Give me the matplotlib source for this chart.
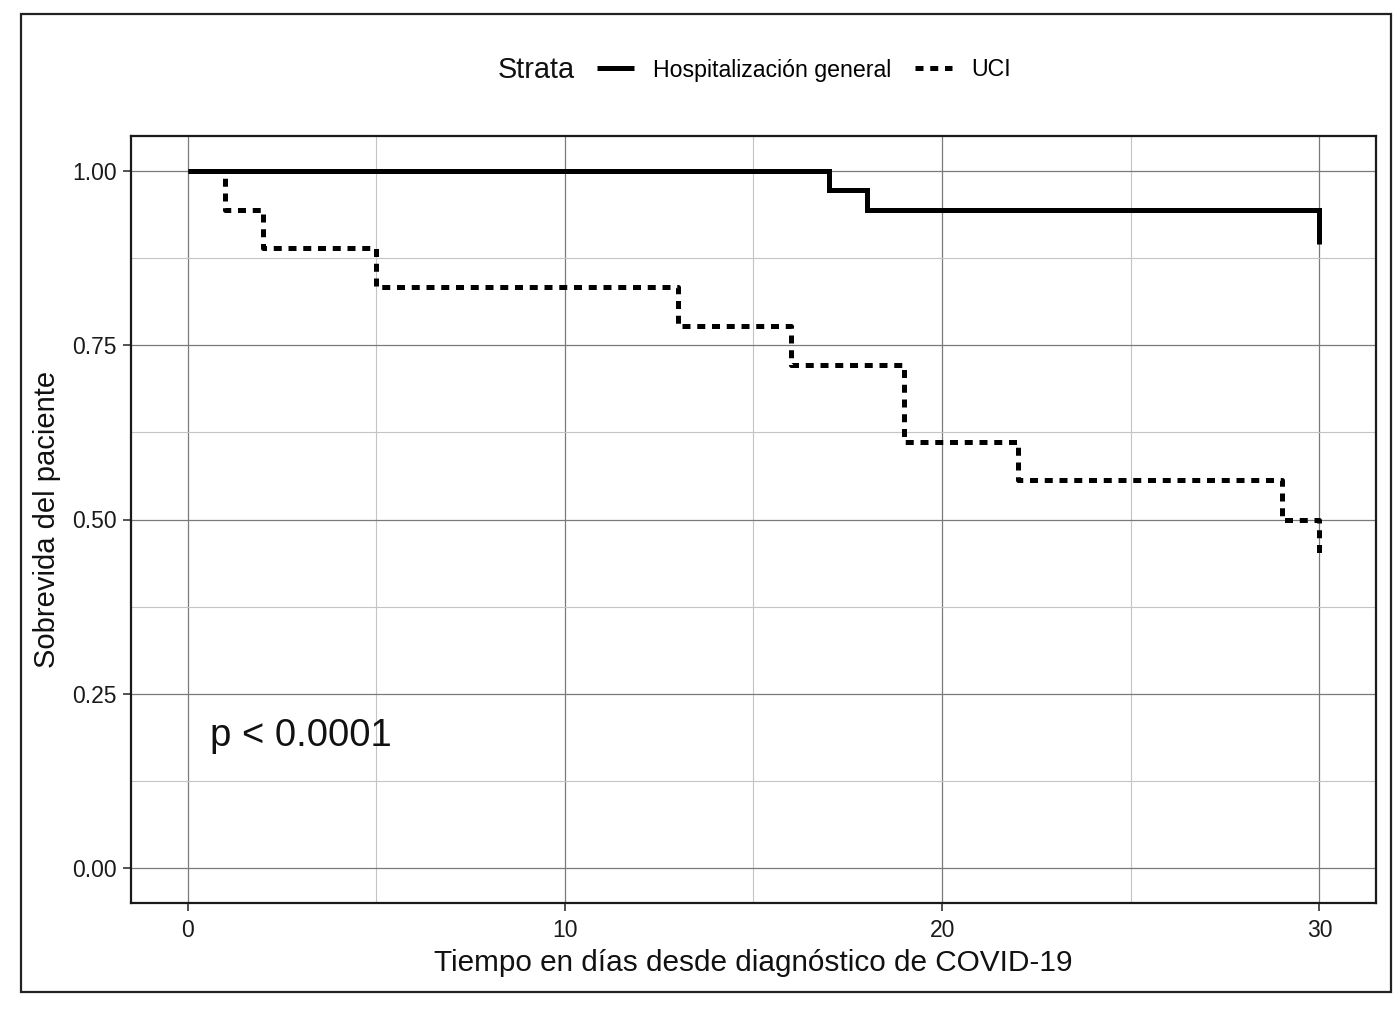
import matplotlib
matplotlib.use("Agg")
import matplotlib.pyplot as plt
from matplotlib.lines import Line2D
from matplotlib.patches import Rectangle

plt.rcParams['font.family'] = ['Liberation Sans', 'DejaVu Sans']

# Data (Kaplan-Meier step curves)
hosp_times = [0, 17, 18, 30]
hosp_surv = [1.0, 0.972, 0.944, 0.895]
uci_times = [0, 1, 2, 5, 13, 16, 19, 22, 29, 30]
uci_surv = [1.0, 0.944, 0.889, 0.833, 0.778, 0.722, 0.611, 0.556, 0.5, 0.444]
series_labels = ["Hospitalización general", "UCI"]
legend_title = "Strata"
x_ticks = [0, 10, 20, 30]
y_ticks = [0.00, 0.25, 0.50, 0.75, 1.00]
y_tick_labels = ["0.00", "0.25", "0.50", "0.75", "1.00"]
x_minor = [5, 15, 25]
y_minor = [0.125, 0.375, 0.625, 0.875]
p_text = "p < 0.0001"
x_label = "Tiempo en días desde diagnóstico de COVID-19"
y_label = "Sobrevida del paciente"

W, H = 1400, 1009
fig = plt.figure(figsize=(W / 100, H / 100), dpi=100)

# outer border
fig.patches.append(Rectangle((21 / W, 1 - 992 / H), (1391 - 21) / W, (992 - 14) / H,
                             transform=fig.transFigure, fill=False,
                             edgecolor='#222222', linewidth=1.6))

left, right, top, bottom = 131, 1376, 136, 903
ax = fig.add_axes([left / W, 1 - bottom / H, (right - left) / W, (bottom - top) / H])
ax.set_xlim(-1.5, 31.5)
ax.set_ylim(-0.05, 1.05)

ax.set_xticks(x_ticks)
ax.set_xticklabels([str(t) for t in x_ticks])
ax.set_yticks(y_ticks)
ax.set_yticklabels(y_tick_labels)
ax.set_xticks(x_minor, minor=True)
ax.set_yticks(y_minor, minor=True)
ax.grid(True, which='major', color='#7a7a7a', linewidth=0.9)
ax.grid(True, which='minor', color='#c4c4c4', linewidth=0.8)
ax.set_axisbelow(True)
ax.tick_params(which='major', direction='out', length=5.5, width=1.2, color='#333333',
               labelsize=16.5, pad=4.5, labelcolor='#1a1a1a')
ax.tick_params(axis='x', which='major', pad=6)
ax.tick_params(which='minor', length=0)
for s in ax.spines.values():
    s.set_color('#1a1a1a')
    s.set_linewidth(1.6)

lw = 3.6
dash = (0, (1.6, 1.35))
l1, = ax.step(hosp_times, hosp_surv, where='post', color='black', linewidth=lw,
              solid_capstyle='butt', solid_joinstyle='miter')
l2, = ax.step(uci_times, uci_surv, where='post', color='black', linewidth=lw,
              linestyle=dash, dash_capstyle='butt')

ax.text(0.6, 0.19, p_text, fontsize=27.5, ha='left', va='center', color='#111111')

ax.set_xlabel(x_label, fontsize=21.4, color='#111111', labelpad=5)
ax.set_ylabel(y_label, fontsize=21, color='#111111', labelpad=8)

# legend
fig.text(498 / W, 1 - 70 / H, legend_title, fontsize=20.8, ha='left', va='center', color='#111111')
h1 = Line2D([], [], color='black', linewidth=lw, solid_capstyle='butt')
h2 = Line2D([], [], color='black', linewidth=lw, linestyle=dash, dash_capstyle='butt')
fig.legend([h1, h2], series_labels, ncol=2, loc='center left',
           bbox_to_anchor=(597 / W, 1 - 70 / H), frameon=False, fontsize=16.7,
           handlelength=1.6, handletextpad=0.8, columnspacing=1.05, borderaxespad=0,
           borderpad=0)

fig.savefig("out.png", dpi=100)
